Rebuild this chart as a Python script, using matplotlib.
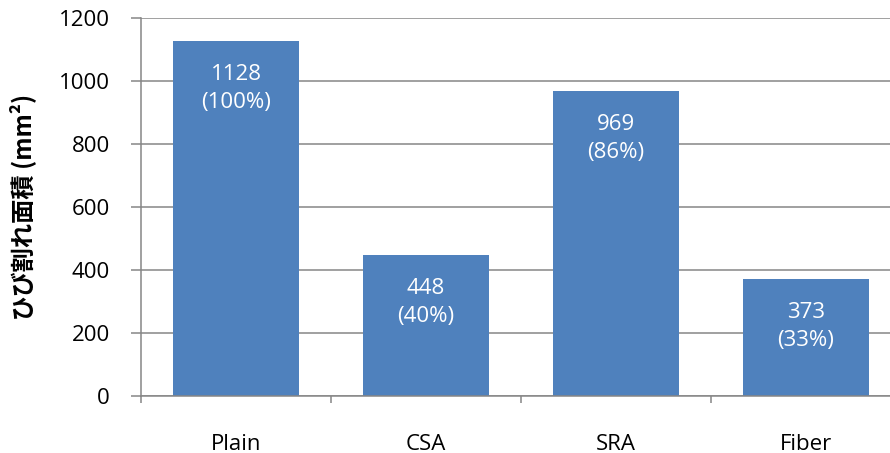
import matplotlib.pyplot as plt

# crack area per mix, and share relative to the plain mix
categories = ["Plain", "CSA", "SRA", "Fiber"]
crack_area = [1128, 448, 969, 373]
ratio_pct = [100, 40, 86, 33]
y_ticks = [0, 200, 400, 600, 800, 1000, 1200]

BAR_COLOR = "#4F81BD"
GRID_COLOR = "#868686"
TEXT_FONT = ["Open Sans", "DejaVu Sans"]

fig = plt.figure(figsize=(8.9, 4.53), dpi=100)
# axes run a little past the right edge so the last category is cut off
ax = fig.add_axes([0.1584, 0.1258, 0.854, 0.8344])

x = range(len(categories))
ax.bar(x, crack_area, width=0.66, color=BAR_COLOR, zorder=2)

for i, (v, p) in enumerate(zip(crack_area, ratio_pct)):
    ax.annotate(f"{v}\n({p}%)", xy=(i, v), xytext=(0, -48),
                textcoords="offset pixels", ha="center", va="center",
                color="white", fontsize=16, family=TEXT_FONT,
                linespacing=1.45, zorder=3)

ax.set_xlim(-0.5, 3.5)
ax.set_ylim(0, 1200)
ax.set_yticks(y_ticks)
ax.set_xticks(x)
ax.set_xticklabels(categories, family=TEXT_FONT, fontsize=16)
ax.set_yticklabels([str(t) for t in y_ticks], family=TEXT_FONT, fontsize=16)

# category separators as minor ticks below the axis
ax.set_xticks([-0.5, 0.5, 1.5, 2.5, 3.5], minor=True)
ax.tick_params(axis="x", which="major", length=0, pad=27)
ax.tick_params(axis="x", which="minor", length=5, width=1.1, color=GRID_COLOR)
ax.tick_params(axis="y", length=7.5, width=1.1, color=GRID_COLOR, pad=15)

ax.yaxis.grid(True, color=GRID_COLOR, linewidth=1.1)
ax.set_axisbelow(True)

for side in ("top", "right"):
    ax.spines[side].set_visible(False)
for side in ("left", "bottom"):
    ax.spines[side].set_color(GRID_COLOR)
    ax.spines[side].set_linewidth(1.1)

ax.set_ylabel("ひび割れ面積 (mm²)", fontsize=17.5, fontweight="bold",
              family=["Noto Sans CJK JP", "DejaVu Sans"])
ax.yaxis.set_label_coords(-0.138, 0.5)

fig.savefig("out.png", dpi=100)
